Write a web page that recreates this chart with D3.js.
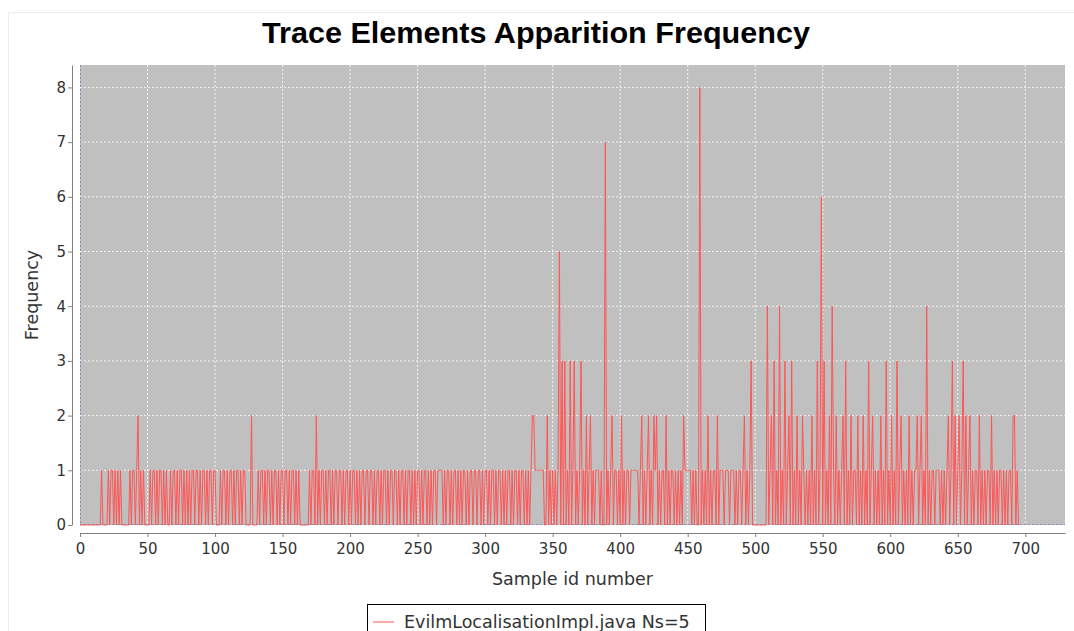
<!DOCTYPE html>
<html>
<head>
<meta charset="utf-8">
<script src="https://cdn.jsdelivr.net/npm/d3@7"></script>
<style>
  html, body { margin: 0; padding: 0; background: #fff; }
  #chart { width: 1074px; height: 631px; }
</style>
</head>
<body>
<div id="chart"></div>
<script>
// frequency per sample id, 10 samples per group, 50 per block
const block0 = "0000000000 0000001000 0101101010 1000000101 1012010100";
const block1 = "0010110101 1010100101 1010110101 0101101101 0110101101";
const block2 = "1000101101 0110101101 0110000200 0010110101 1010110101";
const block3 = "1011010110 1010000000 1011020101 1010110101 1011010110";
const block4 = "1011010101 1011011010 1101011010 1101101011 0101101010";
const block5 = "1101011010 1011011110 1011010110 1010110101 1011011010";
const block6 = "1101011010 1101010110 1011010110 1010122111 1111002010";
const block7 = "1010150303 0103013010 1301020120 1011101007 0101201101";
const block8 = "0201011011 1111012010 1201021201 0110201011 0101010211";
const block9 = "1110101008 0101020101 1020111011 1011101011 0120101300";
const block10 = "0000000004 0120301040 1030120301 0201021010 1020103016";
const block11 = "0301020410 2010120301 0201102010 2010301201 0102010301";
const block12 = "0201030120 1010201011 2012010401 0110111010 1012013020";
const block13 = "1201302012 0101102010 1011020101 0110101011 022010";

const xTicks = [0, 50, 100, 150, 200, 250, 300, 350, 400, 450, 500, 550, 600, 650, 700];
const yTicks = [0, 1, 2, 3, 4, 5, 6, 7, 8];
const seriesName = "EvilmLocalisationImpl.java Ns=5";

const blocks = [block0, block1, block2, block3, block4, block5, block6,
  block7, block8, block9, block10, block11, block12, block13];
const data = blocks.join("").replace(/\s/g, "").split("").map((c, i) => ({ id: i, freq: +c }));

const width = 1074, height = 631;
const margin = { top: 65, right: 9, bottom: 106, left: 80 };
const innerWidth = width - margin.left - margin.right;
const innerHeight = height - margin.top - margin.bottom;

const svg = d3.select("#chart").append("svg")
  .attr("width", width)
  .attr("height", height)
  .style("font-family", "'DejaVu Sans', sans-serif");

// faint panel edge
svg.append("path")
  .attr("d", `M8.5,${height}V12.5H${width}`)
  .attr("fill", "none")
  .attr("stroke", "#ececec");

svg.append("text")
  .attr("x", 262)
  .attr("y", 43)
  .attr("textLength", 548)
  .attr("lengthAdjust", "spacingAndGlyphs")
  .style("font-family", "'Liberation Sans', Arial, sans-serif")
  .style("font-weight", "bold")
  .style("font-size", "29px")
  .text("Trace Elements Apparition Frequency");

const g = svg.append("g")
  .attr("transform", `translate(${margin.left},${margin.top})`);

const x = d3.scaleLinear().domain([0, 729.4]).range([0, innerWidth]);
const y = d3.scaleLinear().domain([0, 8.41]).range([innerHeight, 0]);

g.append("rect")
  .attr("width", innerWidth)
  .attr("height", innerHeight)
  .attr("fill", "#c0c0c0");

// grid
g.append("g")
  .selectAll("line")
  .data(xTicks.filter(d => d > 0))
  .enter().append("line")
  .attr("x1", d => x(d)).attr("x2", d => x(d))
  .attr("y1", 0).attr("y2", innerHeight)
  .attr("stroke", "#f4f4f4")
  .attr("stroke-dasharray", "2,2");

g.append("g")
  .selectAll("line")
  .data(yTicks.filter(d => d > 0))
  .enter().append("line")
  .attr("x1", 0).attr("x2", innerWidth)
  .attr("y1", d => y(d)).attr("y2", d => y(d))
  .attr("stroke", "#f4f4f4")
  .attr("stroke-dasharray", "2,2");

// zero baselines
g.append("line")
  .attr("x1", x(0) + 0.5).attr("x2", x(0) + 0.5)
  .attr("y1", 0).attr("y2", innerHeight)
  .attr("stroke", "#8a8ab4")
  .attr("stroke-dasharray", "2,2");
g.append("line")
  .attr("x1", 0).attr("x2", innerWidth)
  .attr("y1", y(0) - 0.5).attr("y2", y(0) - 0.5)
  .attr("stroke", "#8a8ab4")
  .attr("stroke-dasharray", "2,2");

const line = d3.line()
  .x(d => x(d.id))
  .y(d => y(d.freq));

g.append("path")
  .datum(data)
  .attr("fill", "none")
  .attr("stroke", "#ff5555")
  .attr("stroke-width", 1)
  .attr("d", line);

// axes
const xAxis = g.append("g")
  .attr("transform", `translate(0,${innerHeight + 8})`)
  .attr("font-size", 15)
  .attr("font-family", "'DejaVu Sans', sans-serif")
  .call(d3.axisBottom(x).tickValues(xTicks).tickSize(4).tickSizeOuter(0));

const yAxis = g.append("g")
  .attr("transform", "translate(-8,0)")
  .call(d3.axisLeft(y).tickValues(yTicks).tickSize(4).tickSizeOuter(0))
  .attr("font-size", 15)
  .attr("font-family", "'DejaVu Sans', sans-serif");

xAxis.attr("font-size", 15).attr("font-family", "'DejaVu Sans', sans-serif");

[xAxis, yAxis].forEach(a => {
  a.select(".domain").attr("stroke", "#808080");
  a.selectAll(".tick line").attr("stroke", "#808080");
  a.selectAll(".tick text").attr("fill", "#333");
});
xAxis.selectAll(".tick text").attr("dy", "0.95em");
yAxis.selectAll(".tick text").attr("x", -6);

svg.append("text")
  .attr("x", margin.left + innerWidth / 2)
  .attr("y", 585)
  .attr("text-anchor", "middle")
  .attr("fill", "#333")
  .style("font-size", "17.5px")
  .text("Sample id number");

svg.append("text")
  .attr("transform", `translate(38,${margin.top + innerHeight / 2}) rotate(-90)`)
  .attr("text-anchor", "middle")
  .attr("fill", "#333")
  .style("font-size", "17.5px")
  .text("Frequency");

// legend
const legend = svg.append("g").attr("transform", "translate(367,604)");
legend.append("rect")
  .attr("x", 0.5).attr("y", 0.5)
  .attr("width", 338).attr("height", 40)
  .attr("fill", "#fff")
  .attr("stroke", "#000");
legend.append("line")
  .attr("x1", 6).attr("x2", 27)
  .attr("y1", 18).attr("y2", 18)
  .attr("stroke", "#ff5555");
legend.append("text")
  .attr("x", 37).attr("y", 24)
  .attr("fill", "#333")
  .style("font-size", "17.5px")
  .text(seriesName);
</script>
</body>
</html>
